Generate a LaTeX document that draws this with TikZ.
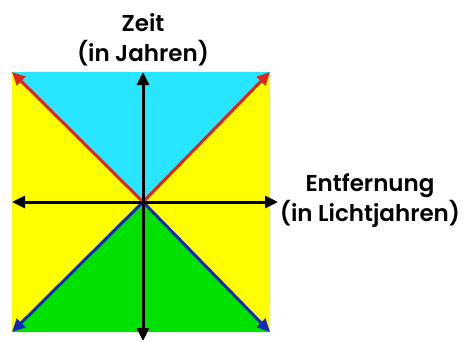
\documentclass[tikz,border=0pt]{standalone}
\usepackage{fontspec}
\setmainfont{Poppins}[UprightFont={* SemiBold}]
\usetikzlibrary{arrows.meta}
\definecolor{skycol}{RGB}{40,230,255}
\definecolor{yelcol}{RGB}{255,255,0}
\definecolor{grncol}{RGB}{0,225,0}
\definecolor{redcol}{RGB}{225,35,30}
\definecolor{blucol}{RGB}{20,40,190}
\tikzset{
  axis/.style={line width=3pt, black, -{Triangle[length=13pt,width=12pt]}},
  cone/.style={line width=3pt, -{Triangle[length=13pt,width=12pt]}},
  lbl/.style={font=\fontsize{23}{30}\selectfont, inner sep=0pt, align=center}
}
\begin{document}
\begin{tikzpicture}[x=1pt,y=-1pt]
\useasboundingbox (0,0) rectangle (469,341);
\coordinate (O) at (143,202);
\coordinate (TL) at (12,72);
\coordinate (TR) at (270,72);
\coordinate (BL) at (12,332);
\coordinate (BR) at (270,332);
\coordinate (T) at (143,72);
\coordinate (B) at (143,341);
\coordinate (L) at (12,202);
\coordinate (R) at (278,202);
\fill[yelcol] (TL) rectangle (BR);
\fill[skycol] (TL) -- (TR) -- (O) -- cycle;
\fill[grncol] (BL) -- (BR) -- (O) -- cycle;
\draw[cone, redcol] (O) -- (TL);
\draw[cone, redcol] (O) -- (TR);
\draw[cone, blucol] (O) -- (BL);
\draw[cone, blucol] (O) -- (BR);
\draw[axis] (O) -- (T);
\draw[axis] (O) -- (B);
\draw[axis] (O) -- (L);
\draw[axis] (O) -- (R);
\node[lbl] (zeit) at (143,40) {Zeit\\(in Jahren)};
\node[lbl] (entf) at (370,201) {Entfernung\\(in Lichtjahren)};
\end{tikzpicture}
\end{document}
